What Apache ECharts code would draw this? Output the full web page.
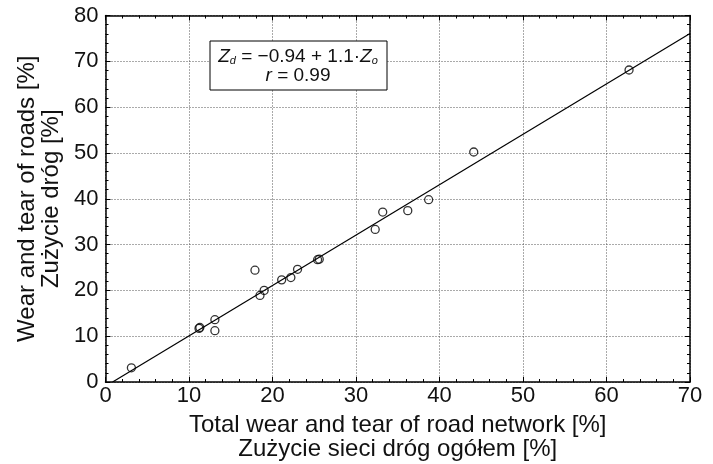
<!DOCTYPE html>
<html>
<head>
<meta charset="utf-8">
<script src="https://cdn.jsdelivr.net/npm/echarts@6/dist/echarts.min.js"></script>
<style>
  html, body { margin: 0; padding: 0; background: #fff; }
  #chart { width: 713px; height: 464px; }
</style>
</head>
<body>
<div id="chart"></div>
<script>
// total wear of road network (Zo) vs wear of roads (Zd), in %
const totalWear = [3.1, 11.2, 11.3, 13.1, 13.1, 17.9, 18.5, 19.0, 21.1, 22.2, 23.0, 25.4, 25.6, 32.3, 33.2, 36.2, 38.7, 44.1, 62.7]
const roadWear = [3.1, 11.7, 11.9, 13.6, 11.2, 24.4, 18.9, 20.0, 22.3, 22.8, 24.6, 26.7, 26.8, 33.3, 37.1, 37.4, 39.8, 50.2, 68.1]
// fitted line Zd = -0.94 + 1.1*Zo, end points as drawn
const fitX = [0.85, 70]
const fitY = [0, 76.06]
const xTicks = [0, 10, 20, 30, 40, 50, 60, 70]
const yTicks = [0, 10, 20, 30, 40, 50, 60, 70, 80]

const FONT = 'Liberation Sans'

const chart = echarts.init(document.getElementById('chart'), null, { renderer: 'canvas' })

const points = totalWear.map((x, i) => [x, roadWear[i]])
const fitLine = fitX.map((x, i) => [x, fitY[i]])

// common axis style (box frame with inward ticks)
function axisBase (extra) {
  return Object.assign({
    type: 'value',
    axisLine: { show: true, onZero: false, lineStyle: { color: '#000', width: 1.5 } },
    axisTick: { show: true, inside: true, length: 5, lineStyle: { color: '#000', width: 1 } },
    minorTick: { show: true, splitNumber: 5, length: 3, lineStyle: { color: '#000', width: 1 } },
    splitLine: { show: false },
    axisLabel: { show: false },
    nameMoveOverlap: false
  }, extra)
}

// dotted grid at major ticks
const gridLine = { show: true, lineStyle: { color: '#555', type: [1, 2], width: 1 } }

chart.setOption({
  animation: false,
  backgroundColor: '#fff',
  textStyle: { fontFamily: FONT },
  grid: { left: 105.5, right: 23, top: 15.5, bottom: 82, outerBoundsMode: 'none', containLabel: false },
  xAxis: [
    axisBase({
      min: 0, max: 70, interval: 10, position: 'bottom',
      splitLine: gridLine,
      axisLabel: {
        show: true, color: '#111', fontSize: 22, fontFamily: FONT, margin: 3,
        formatter: v => xTicks.includes(v) ? String(v) : ''
      },
      name: 'Total wear and tear of road network [%]\nZużycie sieci dróg ogółem [%]',
      nameLocation: 'middle',
      nameGap: 31,
      nameTextStyle: { color: '#111', fontSize: 24, lineHeight: 24, fontFamily: FONT }
    }),
    axisBase({ min: 0, max: 70, interval: 10, position: 'top' })
  ],
  yAxis: [
    axisBase({
      min: 0, max: 80, interval: 10, position: 'left',
      splitLine: gridLine,
      axisLabel: {
        show: true, color: '#111', fontSize: 22, fontFamily: FONT, margin: 7,
        formatter: v => yTicks.includes(v) ? String(v) : ''
      },
      name: 'Wear and tear of roads [%]\nZużycie dróg [%]',
      nameLocation: 'middle',
      nameGap: 42,
      nameTextStyle: { color: '#111', fontSize: 24, lineHeight: 24, fontFamily: FONT }
    }),
    axisBase({ min: 0, max: 80, interval: 10, position: 'right' })
  ],
  series: [
    {
      type: 'line',
      data: fitLine,
      symbol: 'none',
      lineStyle: { color: '#000', width: 1.2 },
      z: 2
    },
    {
      type: 'scatter',
      data: points,
      symbol: 'circle',
      symbolSize: 8,
      itemStyle: { color: 'rgba(255,255,255,0)', borderColor: '#000', borderWidth: 1.3 },
      z: 3
    }
  ],
  graphic: [
    {
      type: 'rect',
      shape: { x: 210, y: 41, width: 177, height: 49 },
      style: { fill: '#fff', stroke: '#000', lineWidth: 1 },
      z: 10
    },
    {
      type: 'text',
      x: 298, y: 57,
      style: {
        text: '{i|Z}{s|d}{n| = −0.94 + 1.1·}{i|Z}{s|o}',
        align: 'center', verticalAlign: 'middle',
        rich: {
          i: { fontSize: 19, fontStyle: 'italic', fontFamily: FONT, fill: '#111' },
          s: { fontSize: 11, fontStyle: 'italic', fontFamily: FONT, fill: '#111', verticalAlign: 'bottom', padding: [8, 0, 0, 0] },
          n: { fontSize: 19, fontFamily: FONT, fill: '#111' }
        }
      },
      z: 11
    },
    {
      type: 'text',
      x: 298, y: 76,
      style: {
        text: '{i|r}{n| = 0.99}',
        align: 'center', verticalAlign: 'middle',
        rich: {
          i: { fontSize: 19, fontStyle: 'italic', fontFamily: FONT, fill: '#111' },
          n: { fontSize: 19, fontFamily: FONT, fill: '#111' }
        }
      },
      z: 11
    }
  ]
})
</script>
</body>
</html>
